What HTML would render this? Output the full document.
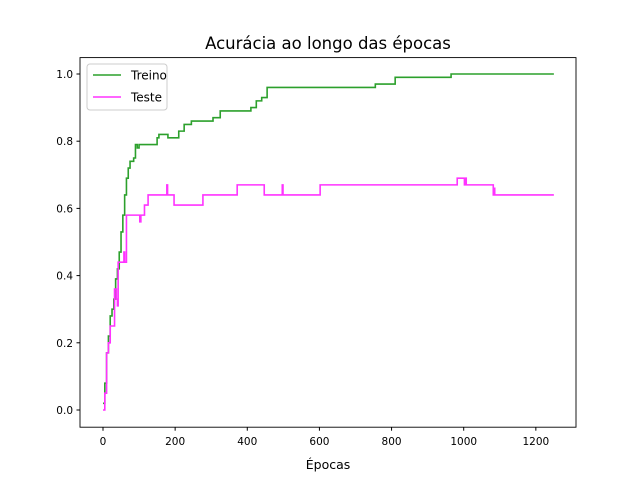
<!DOCTYPE html>
<html><head><meta charset="utf-8"><style>
body{margin:0;background:#fff;font-family:"Liberation Sans","DejaVu Sans",sans-serif}
svg text{font-family:"DejaVu Sans","Liberation Sans",sans-serif}
</style></head><body>
<svg id="chart" width="640" height="480" xmlns="http://www.w3.org/2000/svg">
<rect width="640" height="480" fill="#fff"/>
<text x="328" y="49" text-anchor="middle" font-size="16.5">Acurácia ao longo das épocas</text>
<g id="marks"></g>
<rect x="80" y="57.6" width="496" height="369.6" fill="none" stroke="#000" stroke-width="0.9"/>
<g id="axes"></g>
<text x="328" y="469" text-anchor="middle" font-size="12.5">Épocas</text>
<g>
<rect x="87" y="64" width="80" height="46" rx="3" fill="#fff" fill-opacity="0.8" stroke="#ccc"/>
<line x1="93" y1="75" x2="121" y2="75" stroke="#2ca02c" stroke-width="1.6"/>
<text x="131" y="79.5" font-size="12">Treino</text>
<line x1="93" y1="97" x2="121" y2="97" stroke="#ff33ff" stroke-width="1.6"/>
<text x="131" y="101.5" font-size="12">Teste</text>
</g>
</svg>
<script>
const trainEpochs=[0,5,10,15,20,25,30,35,40,45,50,55,60,65,70,75,85,90,95,100,140,150,155,180,205,210,225,245,305,325,390,410,425,440,455,755,810,965,1250];
const trainValues=[0.02,0.08,0.17,0.22,0.28,0.30,0.33,0.39,0.42,0.47,0.53,0.58,0.64,0.69,0.72,0.74,0.75,0.79,0.78,0.79,0.79,0.81,0.82,0.81,0.81,0.83,0.85,0.86,0.87,0.89,0.89,0.90,0.92,0.93,0.96,0.97,0.99,1.0,1.0];
const testEpochs=[0,5,10,15,20,30,32,37,40,42,55,58,60,65,100,102,105,115,125,175,177,179,195,197,275,277,370,372,445,447,495,497,499,600,602,980,982,1000,1002,1005,1007,1080,1082,1084,1086,1250];
const testValues=[0,0.05,0.17,0.2,0.25,0.25,0.36,0.33,0.31,0.44,0.44,0.47,0.44,0.58,0.58,0.56,0.58,0.61,0.64,0.64,0.67,0.64,0.64,0.61,0.61,0.64,0.64,0.67,0.67,0.64,0.64,0.67,0.64,0.64,0.67,0.67,0.69,0.69,0.67,0.69,0.67,0.67,0.64,0.66,0.64,0.64];
const xTicks=[0,200,400,600,800,1000,1200];
const yTicks=[0.0,0.2,0.4,0.6,0.8,1.0];
const NS='http://www.w3.org/2000/svg';
const X=v=>103+v*0.3607;
const Y=v=>410-v*336;
const marks=document.getElementById('marks'),axes=document.getElementById('axes');
function series(ex,vals,color,name){
  let d='M'+X(ex[0])+','+Y(vals[0]);
  for(let i=1;i<ex.length;i++){d+=' L'+X(ex[i])+','+Y(vals[i-1])+' L'+X(ex[i])+','+Y(vals[i]);}
  const p=document.createElementNS(NS,'path');
  p.setAttribute('d',d);p.setAttribute('fill','none');p.setAttribute('stroke',color);p.setAttribute('stroke-width','1.6');
  
  
  marks.appendChild(p);
}
series(trainEpochs,trainValues,'#2ca02c','treino-line');
series(testEpochs,testValues,'#ff33ff','teste-line');
xTicks.forEach(t=>{
  const l=document.createElementNS(NS,'line');
  l.setAttribute('x1',X(t));l.setAttribute('x2',X(t));l.setAttribute('y1',427.2);l.setAttribute('y2',430.7);l.setAttribute('stroke','#000');
  
  
  axes.appendChild(l);
  const tx=document.createElementNS(NS,'text');
  tx.setAttribute('x',X(t));tx.setAttribute('y',445);tx.setAttribute('text-anchor','middle');tx.setAttribute('font-size','10.5');
  tx.textContent=t;
  
  
  axes.appendChild(tx);
});
yTicks.forEach(t=>{
  const l=document.createElementNS(NS,'line');
  l.setAttribute('x1',76.5);l.setAttribute('x2',80);l.setAttribute('y1',Y(t));l.setAttribute('y2',Y(t));l.setAttribute('stroke','#000');
  
  
  axes.appendChild(l);
  const tx=document.createElementNS(NS,'text');
  tx.setAttribute('x',73);tx.setAttribute('y',Y(t)+4);tx.setAttribute('text-anchor','end');tx.setAttribute('font-size','10.5');
  tx.textContent=t.toFixed(1);
  
  
  axes.appendChild(tx);
});
</script>
</body></html>
